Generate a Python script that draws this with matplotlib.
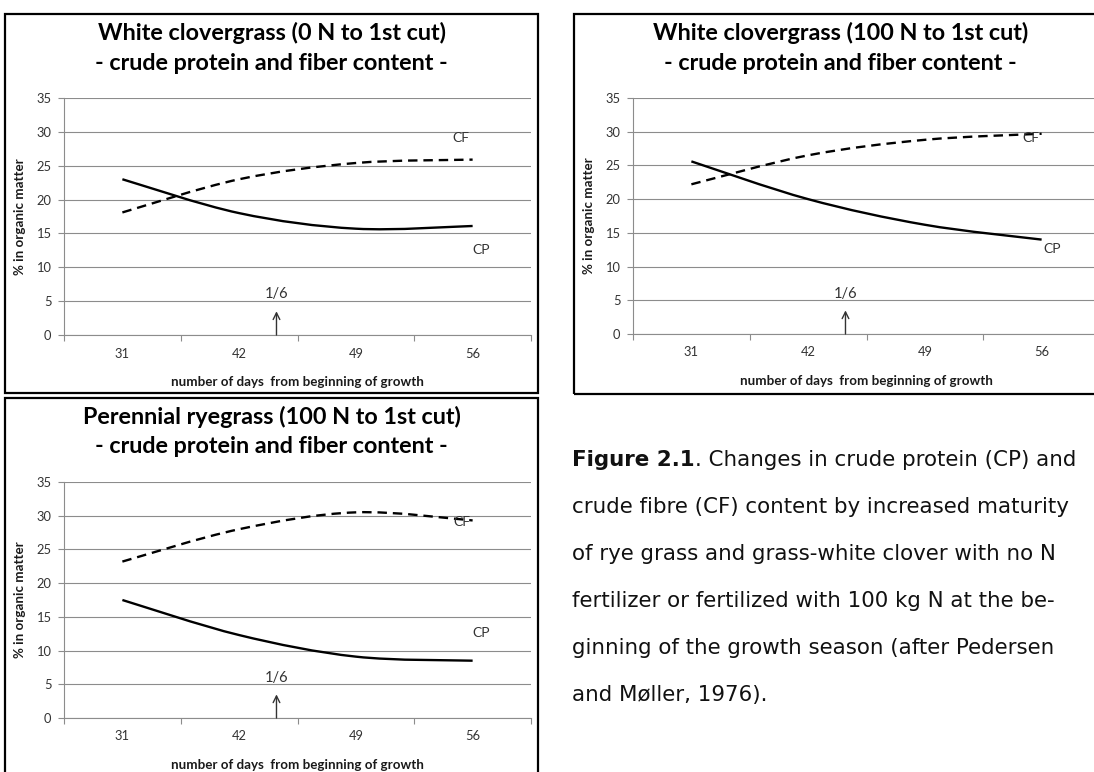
import matplotlib
matplotlib.use("Agg")
import matplotlib.pyplot as plt
from matplotlib.path import Path
from matplotlib.patches import PathPatch, Rectangle
import numpy as np

# ---------------- data ----------------
days = ["31", "42", "49", "56"]
y_ticks = [0, 5, 10, 15, 20, 25, 30, 35]
subtitle = "- crude protein and fiber content -"
x_label = "number of days  from beginning of growth"
y_label = "% in organic matter"
date_label = "1/6"

wc0_title = "White clovergrass (0 N to 1st cut)"
wc0_cp = [23.0, 18.0, 15.7, 16.1]
wc0_cf = [18.1, 23.0, 25.4, 25.9]

wc100_title = "White clovergrass (100 N to 1st cut)"
wc100_cp = [25.6, 20.0, 16.2, 14.0]
wc100_cf = [22.2, 26.5, 28.8, 29.7]

rg100_title = "Perennial ryegrass (100 N to 1st cut)"
rg100_cp = [17.5, 12.3, 9.1, 8.5]
rg100_cf = [23.2, 28.0, 30.5, 29.3]

caption_bold = "Figure 2.1"
caption_lines = [
    ". Changes in crude protein (CP) and",
    "crude fibre (CF) content by increased maturity",
    "of rye grass and grass-white clover with no N",
    "fertilizer or fertilized with 100 kg N at the be-",
    "ginning of the growth season (after Pedersen",
    "and Møller, 1976).",
]

# ---------------- style ----------------
W, H = 1094, 772
FONT = "Lato"
CAP_FONT = "DejaVu Sans"
GRID = "#8c8c8c"
TXT = "#333333"
ARROW_X = 1.32

plt.rcParams["font.family"] = [FONT, "DejaVu Sans"]

fig = plt.figure(figsize=(W / 100, H / 100), dpi=100)


def frac_rect(x0, y0, x1, y1):
    return [x0 / W, 1 - y1 / H, (x1 - x0) / W, (y1 - y0) / H]


def smooth_path(xs, ys):
    pts = np.column_stack([xs, ys]).astype(float)
    n = len(pts)
    verts = [pts[0]]
    codes = [Path.MOVETO]
    for i in range(n - 1):
        p0 = pts[max(i - 1, 0)]
        p1 = pts[i]
        p2 = pts[i + 1]
        p3 = pts[min(i + 2, n - 1)]
        c1 = p1 + (p2 - p0) / 6.0
        c2 = p2 - (p3 - p1) / 6.0
        verts += [c1, c2, p2]
        codes += [Path.CURVE4] * 3
    return Path(verts, codes)


def panel(box, axbox, title, cp, cf, cf_lab, cp_lab):
    bx0, by0, bx1, by1 = box
    fig.add_artist(Rectangle((bx0 / W, 1 - by1 / H), (bx1 - bx0) / W, (by1 - by0) / H,
                             transform=fig.transFigure, fill=False, lw=1.6,
                             ec="black", zorder=10))
    cx = (bx0 + bx1) / 2
    fig.text(cx / W, 1 - (by0 + 19) / H, title, ha="center", va="center",
             fontsize=16.8, weight="bold", color="black")
    fig.text(cx / W, 1 - (by0 + 49) / H, subtitle, ha="center", va="center",
             fontsize=16.8, weight="bold", color="black")

    ax = fig.add_axes(frac_rect(*axbox))
    ax.set_xlim(-0.5, 3.5)
    ax.set_ylim(0, 35)
    ax.set_yticks(y_ticks)
    ax.yaxis.grid(True, color=GRID, lw=0.8)
    ax.set_axisbelow(True)
    for s in ("top", "right"):
        ax.spines[s].set_visible(False)
    for s in ("left", "bottom"):
        ax.spines[s].set_color(GRID)
        ax.spines[s].set_linewidth(0.8)
    pos = np.arange(len(days))
    ax.set_xticks(np.arange(-0.5, len(days), 1.0))
    ax.set_xticklabels([])
    ax.set_xticks(pos, minor=True)
    ax.set_xticklabels(days, minor=True)
    ax.tick_params(axis="x", which="major", length=4, width=0.8, color=GRID,
                   direction="out")
    ax.tick_params(axis="x", which="minor", length=0, pad=9, labelsize=9.3,
                   labelcolor=TXT)
    ax.tick_params(axis="y", length=4, width=0.8, color=GRID, pad=5,
                   labelsize=9.3, labelcolor=TXT)
    ax.set_xlabel(x_label, fontsize=9.6, weight="bold", color="#1a1a1a")
    ax.xaxis.set_label_coords(0.5, -0.173)
    ax.set_ylabel(y_label, fontsize=9.6, weight="bold", color="#1a1a1a")
    ax.yaxis.set_label_coords(-0.081, 0.5)

    ax.add_patch(PathPatch(smooth_path(pos, cp), fill=False, lw=1.7,
                           ec="black", capstyle="butt"))
    ax.add_patch(PathPatch(smooth_path(pos, cf), fill=False, lw=1.7,
                           ec="black", linestyle=(0, (4, 2.5)), capstyle="butt"))

    ax.text(cf_lab[0], cf_lab[1], "CF", ha="center", va="center",
            fontsize=10, color=TXT)
    ax.text(cp_lab[0], cp_lab[1], "CP", ha="center", va="center",
            fontsize=10, color=TXT)
    ax.text(ARROW_X, 6.0, date_label, ha="center", va="center",
            fontsize=10.5, color=TXT)
    ax.annotate("", xy=(ARROW_X, 3.5), xytext=(ARROW_X, 0),
                arrowprops=dict(arrowstyle="->", lw=1.0, color=TXT,
                                mutation_scale=12, shrinkA=0, shrinkB=0))
    return ax


panel((5, 14, 538, 393), (64, 98, 531, 335), wc0_title, wc0_cp, wc0_cf,
      (2.9, 29.1), (3.07, 12.5))
panel((574, 14, 1107, 394), (633, 98, 1100, 334), wc100_title, wc100_cp,
      wc100_cf, (2.91, 29.0), (3.09, 12.6))
panel((5, 398, 538, 800), (64, 482, 531, 718), rg100_title, rg100_cp,
      rg100_cf, (2.91, 29.1), (3.07, 12.6))

# ---------------- caption ----------------
CAP_FS = 15.4
base0 = 466
step = 47
renderer = fig.canvas.get_renderer()
tb = fig.text(572 / W, 1 - base0 / H, caption_bold, fontsize=CAP_FS,
              weight="bold", family=[CAP_FONT], va="baseline",
              color="#111111")
bb = tb.get_window_extent(renderer=renderer)
fig.text(bb.x1 / W, 1 - base0 / H, caption_lines[0], fontsize=CAP_FS,
         family=[CAP_FONT], va="baseline", color="#111111")
for i, line in enumerate(caption_lines[1:], start=1):
    fig.text(572 / W, 1 - (base0 + i * step) / H, line, fontsize=CAP_FS,
             family=[CAP_FONT], va="baseline", color="#111111")

fig.savefig("out.png", dpi=100)
